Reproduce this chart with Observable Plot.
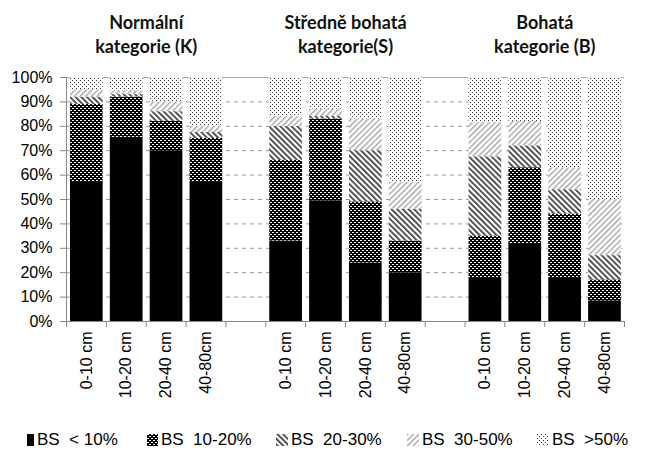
<!DOCTYPE html>
<html>
<head>
<meta charset="utf-8">
<script src="https://cdn.jsdelivr.net/npm/d3@7"></script>
<script src="https://cdn.jsdelivr.net/npm/@observablehq/plot@0.6"></script>
<style>
  html, body { margin: 0; padding: 0; background: #fff; }
  #wrap { position: relative; width: 663px; height: 464px; }
  #chart svg { font-family: "Liberation Sans", Arial, sans-serif !important; }
  #legend { position: relative; height: 44px; font-family: "Liberation Sans", Arial, sans-serif; font-size: 17px; color: #000; }
  .item { position: absolute; top: 10px; display: flex; align-items: center; white-space: pre; }
  .item svg { margin-right: 3px; }
</style>
</head>
<body>
<svg width="0" height="0" style="position:absolute">
  <defs>
    <pattern id="p1" width="4" height="4" patternUnits="userSpaceOnUse">
      <rect width="4" height="4" fill="#000"/>
      <rect x="0" y="0" width="2" height="1" fill="#fff"/>
      <rect x="2" y="2" width="2" height="1" fill="#fff"/>
    </pattern>
    <pattern id="p2" width="4" height="4" patternUnits="userSpaceOnUse" patternTransform="rotate(-45)">
      <rect width="4" height="4" fill="#fff"/>
      <rect width="1.7" height="4" fill="#3a3a3a"/>
    </pattern>
    <pattern id="p3" width="4" height="4" patternUnits="userSpaceOnUse" patternTransform="rotate(45)">
      <rect width="4" height="4" fill="#fff"/>
      <rect width="1.3" height="4" fill="#a0a0a0"/>
    </pattern>
    <pattern id="p4" width="4" height="4" patternUnits="userSpaceOnUse">
      <rect width="4" height="4" fill="#fff"/>
      <rect x="0" y="0" width="1" height="1" fill="#333"/>
      <rect x="2" y="2" width="1" height="1" fill="#333"/>
    </pattern>
  </defs>
</svg>
<div id="wrap">
  <div id="chart"></div>
  <div id="legend"></div>
</div>
<script>
// ---- data ----
const groupTitles = ["Normální\nkategorie (K)", "Středně bohatá\nkategorie(S)", "Bohatá\nkategorie (B)"];
const depths = ["0-10 cm", "10-20 cm", "20-40 cm", "40-80cm"];
const series = ["BS  < 10%", "BS  10-20%", "BS  20-30%", "BS  30-50%", "BS  >50%"];
// values per bar: K(0-10,10-20,20-40,40-80), S(...), B(...)
const bsUnder10 = [57, 75.5, 70, 57,   33, 49.5, 24, 20,   18, 32, 18, 8.5];
const bs10to20  = [32, 16.5, 12, 18,   33, 33.5, 25, 13,   17, 31, 26, 8.5];
const bs20to30  = [3,  1,    4,  2.5,  14, 1,    21, 13,   32.5, 9, 10, 10];
const bs30to50  = [3,  1.5,  4,  2.5,  4,  3,    13, 11,   14, 10, 9, 23];
const bsOver50  = [5,  5.5,  10, 20,   16, 13,   17, 43,   18.5, 18, 37, 50];
const yTicks = [0, 10, 20, 30, 40, 50, 60, 70, 80, 90, 100];

const seriesValues = [bsUnder10, bs10to20, bs20to30, bs30to50, bsOver50];
const fills = ["#000", "url(#p1)", "url(#p2)", "url(#p3)", "url(#p4)"];

// slot layout: 4 bars, empty slot, 4 bars, empty slot, 4 bars
const slotsPerGroup = depths.length + 1;
const nSlots = groupTitles.length * slotsPerGroup - 1;
const table = [];
groupTitles.forEach((g, gi) => {
  depths.forEach((d, di) => {
    const bar = gi * depths.length + di;
    const slot = gi * slotsPerGroup + di;
    series.forEach((s, si) => {
      table.push({slot, depth: d, series: s, value: seriesValues[si][bar]});
    });
  });
});
const boundaries = d3.range(0, nSlots + 1);
const centers = [];
groupTitles.forEach((g, gi) => depths.forEach((d, di) => centers.push(gi * slotsPerGroup + di + 0.5)));

const chart = Plot.plot({
  width: 663,
  height: 420,
  marginTop: 77,
  marginBottom: 99,
  marginLeft: 66,
  marginRight: 39,
  x: {type: "linear", domain: [0, nSlots]},
  y: {domain: [0, 100]},
  color: {type: "ordinal", domain: series, range: fills},
  style: {fontSize: "16px", color: "#000", background: "#fff", overflow: "visible"},
  marks: [
    Plot.ruleY(yTicks.filter(t => t > 0 && t < 100), {stroke: "#999", strokeDasharray: "4,4"}),
    Plot.ruleY([100], {stroke: "#aaa"}),
    Plot.rectY(table, {
      x1: d => d.slot + 0.1,
      x2: d => d.slot + 0.92,
      y: "value",
      fill: "series"
    }),
    Plot.ruleX([0], {stroke: "#888"}),
    Plot.ruleY([0], {stroke: "#888"}),
    Plot.axisY({ticks: yTicks, tickFormat: d => d + "%", tickSize: 6, tickPadding: 8, stroke: "#888", fill: "#000", fontSize: 16, label: null}),
    Plot.axisX({ticks: boundaries, tickSize: 6, tickFormat: () => "", stroke: "#888", label: null}),
    Plot.axisX({ticks: centers, tickSize: 0, tickPadding: 10, tickRotate: -90,
      tickFormat: v => depths[Math.floor(v) % slotsPerGroup], fill: "#000", fontSize: 16, label: null}),
    Plot.text(groupTitles, {
      x: (d, i) => i * slotsPerGroup + depths.length / 2,
      text: d => d,
      frameAnchor: "top",
      lineAnchor: "top",
      dy: -65,
      lineHeight: 1.3,
      fontSize: 18,
      fontWeight: "bold",
      fontFamily: "Lato",
      fill: "#111"
    })
  ]
});
document.getElementById("chart").appendChild(chart);

// legend
const legendLeft = [27, 147, 276, 407, 537];
const swatchWidth = [7, 11, 12, 12, 12];
const legend = document.getElementById("legend");
series.forEach((s, i) => {
  const item = document.createElement("div");
  item.className = "item";
  item.style.left = legendLeft[i] + "px";
  item.innerHTML = `<svg width="${swatchWidth[i]}" height="12"><rect width="${swatchWidth[i]}" height="12" fill="${fills[i]}"/></svg><span>${s}</span>`;
  legend.appendChild(item);
});
</script>
</body>
</html>
